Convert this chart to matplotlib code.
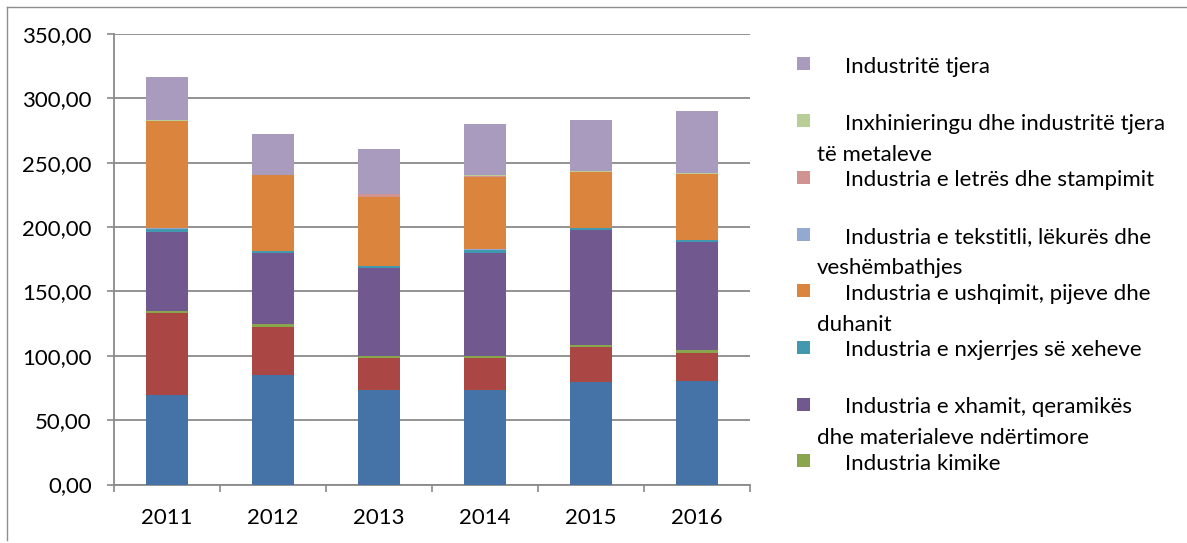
import matplotlib

matplotlib.use("Agg")
import matplotlib.pyplot as plt
from matplotlib.lines import Line2D
from matplotlib.patches import Rectangle
from matplotlib.ticker import FuncFormatter

plt.rcParams["font.family"] = ["Lato", "DejaVu Sans"]

years = ["2011", "2012", "2013", "2014", "2015", "2016"]

# stacked from the bottom up
seg_blue = [69.5, 85.0, 73.3, 73.3, 79.3, 80.6]
seg_red = [63.5, 37.6, 24.7, 24.7, 27.7, 21.8]
kimike = [2.0, 2.1, 1.8, 1.8, 1.5, 1.8]
xhamit = [61.0, 55.0, 68.2, 80.0, 89.0, 84.3]
nxjerrjes = [2.6, 1.5, 1.5, 2.6, 1.4, 1.2]
tekstil = [0.5, 0.3, 0.3, 0.3, 0.4, 0.3]
ushqimit = [83.2, 58.8, 53.9, 56.5, 43.4, 51.3]
letres = [0.3, 0.3, 1.8, 0.8, 0.3, 0.3]
inxhinieringu = [0.2, 0.2, 0.2, 0.2, 0.2, 0.3]
tjera = [33.5, 31.8, 35.0, 39.7, 39.6, 48.2]

series = [seg_blue, seg_red, kimike, xhamit, nxjerrjes, tekstil,
          ushqimit, letres, inxhinieringu, tjera]
colors = ["#4572A7", "#AA4643", "#89A54E", "#71588F", "#4198AF", "#93A9CF",
          "#DB843D", "#D19392", "#B9CD96", "#A99BBD"]

# legend entries, top to bottom (first line, continuation)
legend_labels = [
    ("Industritë tjera", ""),
    ("Inxhinieringu dhe industritë tjera", "të metaleve"),
    ("Industria e letrës dhe stampimit", ""),
    ("Industria e tekstitli, lëkurës dhe", "veshëmbathjes"),
    ("Industria e ushqimit, pijeve dhe", "duhanit"),
    ("Industria e nxjerrjes së xeheve", ""),
    ("Industria e xhamit, qeramikës", "dhe materialeve ndërtimore"),
    ("Industria kimike", ""),
]
legend_colors = ["#A99BBD", "#B9CD96", "#D19392", "#93A9CF",
                 "#DB843D", "#4198AF", "#71588F", "#89A54E"]

W, H = 1187, 543
GRID = "#8a8a8a"
FS = 16

fig = plt.figure(figsize=(W / 100, H / 100), dpi=100)
ax = fig.add_axes([114 / W, 1 - 484.5 / H, (750 - 114) / W, (484.5 - 34) / H])

x = list(range(len(years)))
bottom = [0.0] * len(years)
for vals, col in zip(series, colors):
    ax.bar(x, vals, width=0.4, bottom=bottom, color=col, edgecolor="none", zorder=3)
    bottom = [b + v for b, v in zip(bottom, vals)]

ax.set_ylim(0, 350)
ax.set_xlim(-0.5, len(years) - 0.5)
ax.set_yticks(range(0, 351, 50))
ax.yaxis.set_major_formatter(FuncFormatter(lambda v, _: f"{v:.2f}".replace(".", ",")))
ax.set_xticks(x)
ax.set_xticklabels(years)
ax.set_xticks([i - 0.5 for i in range(len(years) + 1)], minor=True)

ax.grid(axis="y", color=GRID, linewidth=1.3, zorder=0)
ax.set_axisbelow(True)
for side in ("top", "right"):
    ax.spines[side].set_visible(False)
for side in ("left", "bottom"):
    ax.spines[side].set_color(GRID)
    ax.spines[side].set_linewidth(1.3)

ax.tick_params(axis="y", direction="out", length=5, width=1.2, color=GRID,
               labelsize=FS, pad=11, labelcolor="black")
ax.tick_params(axis="x", which="major", length=0, labelsize=FS, pad=17,
               labelcolor="black")
ax.tick_params(axis="x", which="minor", direction="out", length=5, width=1.2,
               color=GRID)

# legend drawn by hand so wrapped lines sit like the original
for i, ((first, second), col) in enumerate(zip(legend_labels, legend_colors)):
    yc = 64 + i * 56.7
    fig.add_artist(Rectangle((797 / W, 1 - (yc + 6.5) / H), 13 / W, 13 / H,
                             transform=fig.transFigure, facecolor=col,
                             edgecolor="none"))
    fig.text(845 / W, 1 - (yc + 9) / H, first, fontsize=FS, va="baseline",
             ha="left")
    if second:
        fig.text(817 / W, 1 - (yc + 40) / H, second, fontsize=FS,
                 va="baseline", ha="left")

# outer chart frame (only left and top edges are visible)
fig.add_artist(Line2D([6.5 / W, 6.5 / W], [1 - 540 / H, 1 - 7 / H],
                      transform=fig.transFigure, color="#8d8d8d", lw=1))
fig.add_artist(Line2D([6.5 / W, 1.0], [1 - 7 / H, 1 - 7 / H],
                      transform=fig.transFigure, color="#8d8d8d", lw=1))

fig.savefig("out.png", dpi=100, facecolor="white")
